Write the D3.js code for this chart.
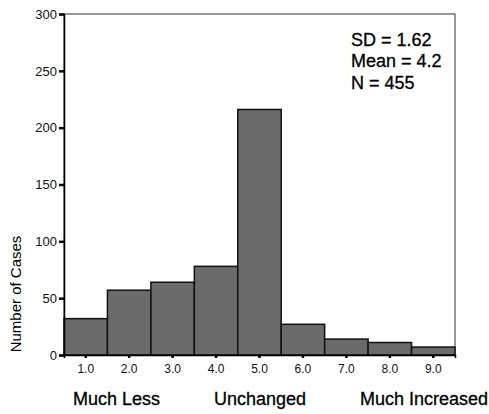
<!DOCTYPE html>
<html lang="en">
<head>
    <meta charset="UTF-8">
    <title>Histogram</title>
    <script src="https://d3js.org/d3.v7.min.js"></script>
    <style>
        body {
            margin: 0;
            background-color: #fff;
            font-family: "Liberation Sans", Arial, sans-serif;
        }
        .bar {
            fill: #6b6b6b;
            stroke: #111;
            stroke-width: 1.5px;
        }
        .tick text {
            fill: #111;
        }
        .heavy {
            fill: #000;
            stroke: #000;
            stroke-width: 0.3px;
        }
    </style>
</head>
<body>
    <svg id="chart" width="489" height="414"></svg>
    <script>
        // Values
        const bins = ["1.0", "2.0", "3.0", "4.0", "5.0", "6.0", "7.0", "8.0", "9.0"];
        const counts = [32, 57, 64, 78, 216, 27, 14, 11, 7];
        const yTicks = [0, 50, 100, 150, 200, 250, 300];
        const anchorLabels = ["Much Less", "Unchanged", "Much Increased"];
        const stats = ["SD = 1.62", "Mean = 4.2", "N = 455"];

        const margin = { top: 14, right: 34, bottom: 59, left: 64 };
        const width = 489 - margin.left - margin.right;
        const height = 414 - margin.top - margin.bottom;

        const svg = d3.select("#chart");
        const g = svg.append("g")
            .attr("transform", `translate(${margin.left},${margin.top})`);

        const x = d3.scaleBand().domain(bins).range([0, width]).padding(0);
        const y = d3.scaleLinear().domain([0, 300]).range([height, 0]);

        // frame
        g.append("rect")
            .attr("width", width)
            .attr("height", height)
            .attr("fill", "none")
            .attr("stroke", "#333")
            .attr("stroke-width", 1);

        // bars
        g.selectAll(".bar")
            .data(counts)
            .enter()
            .append("rect")
            .attr("class", "bar")
            .attr("x", (d, i) => x(bins[i]))
            .attr("y", d => y(d))
            .attr("width", x.bandwidth())
            .attr("height", d => height - y(d));

        // y axis
        const yAxis = g.append("g")
            .call(d3.axisLeft(y).tickValues(yTicks).tickSize(5).tickPadding(2));
        yAxis.select(".domain").attr("stroke", "#000").attr("stroke-width", 1.5);
        yAxis.selectAll(".tick line").attr("stroke", "#000").attr("stroke-width", 2.5);
        yAxis.selectAll(".tick text").style("font-size", "13px");

        // x axis
        const xAxis = g.append("g")
            .attr("transform", `translate(0,${height})`)
            .call(d3.axisBottom(x).tickSize(3).tickPadding(6));
        xAxis.select(".domain").attr("stroke", "#000").attr("stroke-width", 1.5);
        xAxis.selectAll(".tick line").attr("stroke", "#000").attr("stroke-width", 2.5);
        xAxis.selectAll(".tick text").style("font-size", "12px");

        // anchor labels under the axis: left, middle, right
        const anchorX = [9, 196, 424];
        const anchorPos = ["start", "middle", "end"];
        g.selectAll(".anchor")
            .data(anchorLabels)
            .enter()
            .append("text")
            .attr("class", "anchor heavy")
            .attr("x", (d, i) => anchorX[i])
            .attr("y", height + 50)
            .attr("text-anchor", (d, i) => anchorPos[i])
            .style("font-size", "18px")
            .text(d => d);

        // y title
        svg.append("text")
            .attr("transform", "translate(21,294) rotate(-90)")
            .attr("text-anchor", "middle")
            .style("font-size", "15px")
            .text("Number of Cases");

        // summary statistics
        g.selectAll(".stat")
            .data(stats)
            .enter()
            .append("text")
            .attr("class", "stat heavy")
            .attr("x", 287)
            .attr("y", (d, i) => 31.5 + i * 21.5)
            .style("font-size", "18px")
            .text(d => d);
    </script>
</body>
</html>
